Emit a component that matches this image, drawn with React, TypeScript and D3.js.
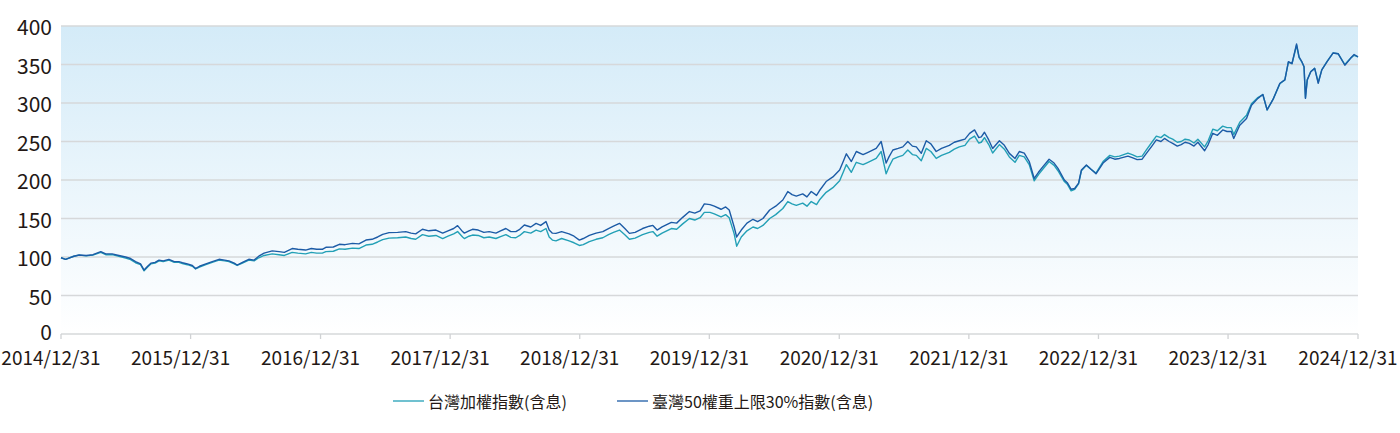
import React from "react";
import { scaleLinear, scaleTime, line, timeParse, timeYear } from "d3";

// 日期（讀圖估計）
const dates = [
  "2014-12-31","2015-01-13","2015-02-05","2015-02-20","2015-03-12","2015-03-31","2015-04-22","2015-05-06","2015-05-24","2015-06-12",
  "2015-07-01","2015-07-15","2015-07-29","2015-08-12","2015-08-22","2015-09-01","2015-09-10","2015-09-22","2015-10-03","2015-10-15",
  "2015-10-31","2015-11-15","2015-11-28","2015-12-08","2015-12-22","2016-01-05","2016-01-14","2016-01-25","2016-02-12","2016-03-01",
  "2016-03-20","2016-04-05","2016-04-17","2016-05-02","2016-05-10","2016-05-25","2016-06-12","2016-06-27","2016-07-10","2016-07-25",
  "2016-08-17","2016-09-05","2016-09-20","2016-10-12","2016-10-28","2016-11-19","2016-12-05","2016-12-20","2017-01-05","2017-01-15",
  "2017-02-05","2017-02-22","2017-03-10","2017-03-31","2017-04-18","2017-05-08","2017-05-25","2017-06-10","2017-06-24","2017-07-12",
  "2017-08-05","2017-08-28","2017-09-12","2017-09-25","2017-10-14","2017-11-01","2017-11-21","2017-12-10","2017-12-25","2018-01-10",
  "2018-01-21","2018-02-04","2018-02-09","2018-02-22","2018-03-04","2018-03-20","2018-04-05","2018-04-20","2018-05-09","2018-05-22",
  "2018-06-06","2018-06-20","2018-07-04","2018-07-15","2018-07-28","2018-08-15","2018-08-30","2018-09-12","2018-09-27","2018-10-06",
  "2018-10-15","2018-10-25","2018-11-10","2018-12-01","2018-12-15","2018-12-30","2019-01-10","2019-01-27","2019-02-15","2019-03-06",
  "2019-03-22","2019-04-05","2019-04-22","2019-05-07","2019-05-20","2019-06-05","2019-06-26","2019-07-15","2019-07-25","2019-08-06",
  "2019-08-20","2019-09-15","2019-09-30","2019-10-17","2019-11-05","2019-11-20","2019-12-05","2019-12-17","2020-01-02","2020-01-14",
  "2020-02-02","2020-02-15","2020-02-25","2020-03-10","2020-03-17","2020-03-30","2020-04-15","2020-05-02","2020-05-15","2020-05-30",
  "2020-06-18","2020-07-05","2020-07-25","2020-08-08","2020-08-20","2020-09-01","2020-09-19","2020-10-01","2020-10-13","2020-10-28",
  "2020-11-05","2020-11-24","2020-12-13","2021-01-01","2021-01-12","2021-01-20","2021-02-03","2021-02-17","2021-03-08","2021-03-22",
  "2021-04-14","2021-04-28","2021-05-12","2021-05-20","2021-05-31","2021-06-15","2021-06-28","2021-07-12","2021-07-25","2021-08-05",
  "2021-08-19","2021-09-02","2021-09-15","2021-09-30","2021-10-15","2021-11-06","2021-11-20","2021-12-04","2021-12-20","2022-01-02",
  "2022-01-16","2022-01-28","2022-02-04","2022-02-13","2022-02-25","2022-03-08","2022-03-27","2022-04-10","2022-04-24","2022-05-10",
  "2022-05-22","2022-06-05","2022-06-19","2022-07-03","2022-07-15","2022-07-27","2022-08-14","2022-08-28","2022-09-08","2022-09-26",
  "2022-10-05","2022-10-15","2022-10-25","2022-11-05","2022-11-13","2022-11-27","2022-12-10","2022-12-24","2023-01-13","2023-02-01",
  "2023-02-15","2023-02-28","2023-03-24","2023-04-05","2023-04-19","2023-05-03","2023-05-15","2023-06-01","2023-06-12","2023-06-25",
  "2023-07-05","2023-07-18","2023-07-28","2023-08-10","2023-08-21","2023-09-01","2023-09-13","2023-09-26","2023-10-07","2023-10-26",
  "2023-11-05","2023-11-18","2023-12-01","2023-12-16","2023-12-28","2024-01-09","2024-01-16","2024-02-02","2024-02-21","2024-03-06",
  "2024-03-24","2024-04-07","2024-04-19","2024-05-06","2024-05-25","2024-06-08","2024-06-18","2024-06-28","2024-07-11","2024-07-18",
  "2024-07-26","2024-08-01","2024-08-05","2024-08-10","2024-08-20","2024-08-31","2024-09-10","2024-09-20","2024-10-05","2024-10-22",
  "2024-11-05","2024-11-24","2024-12-10","2024-12-20","2024-12-31",
];

// 臺灣50權重上限30%指數(含息)
const tw50Values = [
  99,97,101,102.6,102,103,107,104,104,102,
  100,98,94,91,83,88,92,93,96,95,
  97,94,94,92.6,91,89,85,88,91,94,
  97,96,95,92,89.6,93,97,96,101,105,
  108,107,106,111,110,109,111,110,110,112.6,
  113,116.5,116,117.7,117,122,123,126,129.4,131.6,
  132,133,131,130,136,134,135,131,134,137,
  140.7,133,131,134,136,135,132,133,131,134,
  137,133,133,136,141.6,139,143.7,141,146,135,
  131,130.7,133,130,127,122,124,128,131,133,
  137,140,143.7,137,130.7,132,137,140,141,135,
  139,145,144,151.5,159,157,160,169,168,166,
  162,165,161,139,126,135,144,149,146,150,
  161,166,174,185,181,179,182,178,185,180,
  186,198,204,213,225,234,224,237,233,236,
  241,250,222,230,239,241,243,250,244,243,
  234.6,251,247,237,241,245,249,251,253,260.6,
  265,255,256,262,252,241,251,245,234.6,228,
  237,235,224,202,210,217,227,222,215,200,
  196,188,189,196,213,219.5,214,208,222,229.4,
  227,228,231,229,226.5,227,234.6,245,252,250,
  254,250,247.6,244,246,249,247.6,244,249,238,
  246,260.6,258,265,263,263,254,271,280,297,
  306,311,291,305,325.6,330,353.6,351,376.6,360,
  353.6,347,306,330,340.6,345,325.6,343,353.6,365,
  364,349,358,363,360,
];

// 台灣加權指數(含息)
const taiexValues = [
  99,97,101,102.5,101.5,102.5,106,103,103,101,
  98.5,96.5,92.5,90,82,87,91,92,95,94,
  96,93,93,91.5,90,88,84.5,87,90,93,
  96,95,94,91,89,92,96,95,99,102,
  104,103,102,106,105,104,106,105,105,107,
  107.5,110.5,110,111.5,111,115.5,116.5,119.5,122.5,124.5,
  125,126,124,123,129,127,128,124,127,130,
  133,126,124,127,128.5,128,125,126,124,126.5,
  129,125.5,125,128,133,131,135,133,137,126,
  122,121,124,121,118.5,115,116,120,123,125,
  129,132,135,129,123,124.5,129,132,133,127,
  131,137,136,143,150,148,151,158,158,156,
  152,155,151,130,114,126,134,139,137,141,
  150,155,163,172,169,167,170,166,172,168,
  174,184,190,199,211,220,210,223,220,223,
  228,237,208,217,227,230,232,239,233,232,
  225,241,237,228,232,236,240,243,245,253,
  257,248,249,255,246,235,246,240,230,223,
  232,230,220,199,207,214,224,219,212,198,
  194,186,188,195,212,219,214,209,224,232,
  230,231,235,233,230,231,239,250,257,255,
  259,255,253,249,250,253,252,248,253,243,
  251,266,264,270,268,268,259,275,284,299,
  307,311,291,305,325,330,353,351,375,359,
  353,347,307,330,341,345,327,343,354,365,
  364,350,358,362,360,
];

const yTicks = [0, 50, 100, 150, 200, 250, 300, 350, 400];
const seriesNames = ["台灣加權指數(含息)", "臺灣50權重上限30%指數(含息)"];
const seriesColors = ["#23a0b6", "#1c5ba6"];

export default function App() {
  const width = 1400;
  const height = 433;
  const margin = { top: 26, right: 42, bottom: 99, left: 61 };
  const fontFamily = "'Noto Sans CJK TC', 'Noto Sans', sans-serif";

  const parse = timeParse("%Y-%m-%d");
  const start = parse("2014-12-31")!;
  const end = parse("2024-12-31")!;

  const x = scaleTime()
    .domain([start, end])
    .range([margin.left, width - margin.right]);
  const y = scaleLinear()
    .domain([0, 400])
    .range([height - margin.bottom, margin.top]);

  // 每年 12/31 的刻度
  const xTicks = timeYear
    .range(parse("2015-01-01")!, parse("2025-01-02")!)
    .map((d) => new Date(d.getFullYear() - 1, 11, 31));

  const parsed = dates.map((d) => parse(d)!);
  const taiex = parsed.map((d, i) => ({ date: d, value: taiexValues[i] }));
  const tw50 = parsed.map((d, i) => ({ date: d, value: tw50Values[i] }));

  const lineGen = line<{ date: Date; value: number }>()
    .x((d) => x(d.date))
    .y((d) => y(d.value));

  const fmt = (d: Date) =>
    `${d.getFullYear()}/${d.getMonth() + 1}/${d.getDate()}`;

  return (
    <svg
      width={width}
      height={height}
      style={{ position: "absolute", left: 0, top: 0, background: "#fff" }}
    >
      <defs>
        <linearGradient id="bg" x1="0" y1="0" x2="0" y2="1">
          <stop offset="0%" stopColor="#d4ebf8" />
          <stop offset="100%" stopColor="#ffffff" />
        </linearGradient>
      </defs>
      {/* 背景 */}
      <rect
        x={margin.left}
        y={y(400)}
        width={x(end) - margin.left}
        height={y(0) - y(400)}
        fill="url(#bg)"
      />
      {/* 格線 */}
      {yTicks.map((t) => (
        <line
          key={`g-${t}`}
          x1={margin.left}
          x2={x(end)}
          y1={y(t)}
          y2={y(t)}
          stroke="#d6d8da"
          strokeWidth={1.3}
        />
      ))}
      {/* Y 軸標籤 */}
      {yTicks.map((t) => (
        <text
          key={`y-${t}`}
          x={52}
          y={y(t) - (t === 0 ? 3 : 0)}
          textAnchor="end"
          dominantBaseline="central"
          fontFamily={fontFamily}
          fontSize={21}
          fill="#231815"
        >
          {t}
        </text>
      ))}
      {/* X 軸刻度與標籤 */}
      {xTicks.map((t, i) => (
        <g key={`x-${i}`}>
          <line
            x1={x(t)}
            x2={x(t)}
            y1={y(0)}
            y2={y(0) + 5}
            stroke="#d0d2d4"
            strokeWidth={1.3}
          />
          <text
            x={x(t) - 10}
            y={365}
            textAnchor="middle"
            fontFamily={fontFamily}
            fontSize={19}
            fill="#231815"
          >
            {fmt(t)}
          </text>
        </g>
      ))}
      {/* 指數線 */}
      <path
        d={lineGen(taiex) ?? ""}
        fill="none"
        stroke={seriesColors[0]}
        strokeWidth={1.4}
        strokeLinejoin="round"
      />
      <path
        d={lineGen(tw50) ?? ""}
        fill="none"
        stroke={seriesColors[1]}
        strokeWidth={1.4}
        strokeLinejoin="round"
      />
      {/* 圖例 */}
      {seriesNames.map((name, i) => {
        const lx = i === 0 ? 393 : 617;
        return (
          <g key={name} transform={`translate(${lx}, 401)`}>
            <line x1={0} x2={31} y1={0} y2={0} stroke={seriesColors[i]} strokeWidth={1.3} />
            <text
              x={35}
              y={0}
              dominantBaseline="central"
              fontFamily={fontFamily}
              fontSize={16}
              fill="#231815"
            >
              {name}
            </text>
          </g>
        );
      })}
    </svg>
  );
}
